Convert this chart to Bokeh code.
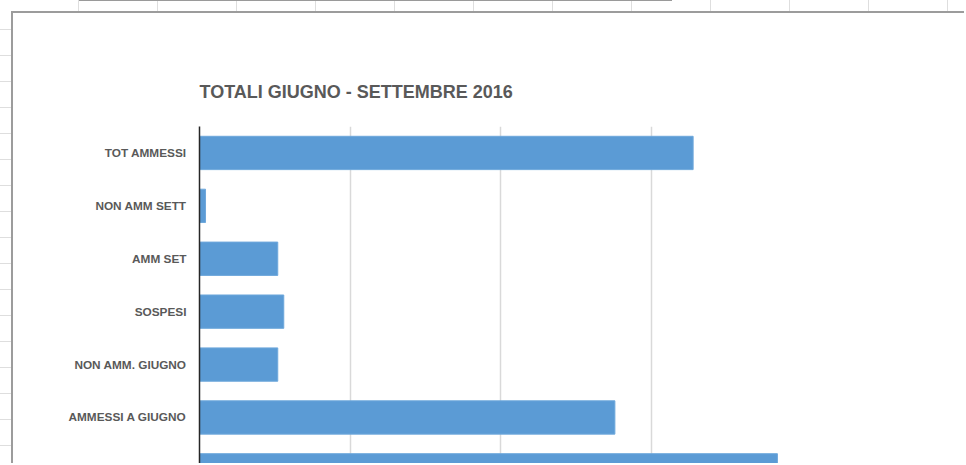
from bokeh.plotting import figure
from bokeh.layouts import column
from bokeh.models import Range1d, FixedTicker, Title, ColumnDataSource
from bokeh.embed import file_html
from bokeh.resources import INLINE

# Data (bottom to top, as in the Excel bar chart)
categories = ["TOT SCRUTINATI", "AMMESSI A GIUGNO", "NON AMM. GIUGNO", "SOSPESI",
              "AMM SET", "NON AMM SETT", "TOT AMMESSI"]
values = [192, 138, 26, 28, 26, 2, 164]
x_ticks = [0, 50, 100, 150, 200]

positions = list(range(len(categories)))
src = ColumnDataSource(dict(y=positions, v=values, cat=categories))

W, H = 953, 452
p = figure(width=W, height=H, output_backend="svg", toolbar_location=None,
           x_range=Range1d(0, 200), y_range=Range1d(0.092, 6.5),
           min_border_left=186, min_border_right=165, min_border_top=113,
           min_border_bottom=0, title=None)
p.margin = (11, 0, 0, 11)
p.styles = {"border-top": "2px solid #9c9c9c", "border-left": "2px solid #9c9c9c",
            "background": "white"}

p.hbar(y="y", right="v", left=0, height=0.63, source=src,
       fill_color="#5B9BD5", line_color="#6ea8dc", line_width=1)

p.xaxis.visible = False
p.xgrid.ticker = FixedTicker(ticks=x_ticks)
p.xgrid.grid_line_color = "#D9D9D9"
p.xgrid.grid_line_width = 1.5
p.ygrid.visible = False
p.outline_line_color = None

ax = p.yaxis[0]
ax.ticker = FixedTicker(ticks=positions)
ax.major_label_overrides = {i: c for i, c in zip(positions, categories)}
ax.major_tick_line_color = None
ax.minor_tick_line_color = None
ax.axis_line_color = "#262626"
ax.axis_line_width = 1.5
ax.major_label_text_font = "Liberation Sans"
ax.major_label_text_font_style = "bold"
ax.major_label_text_font_size = "11.8px"
ax.major_label_text_color = "#595959"
ax.major_label_standoff = 7

t = Title(text="TOTALI GIUGNO - SETTEMBRE 2016", align="left",
          text_font="Liberation Sans", text_font_style="bold",
          text_font_size="18px", text_color="#595959", standoff=50)
p.add_layout(t, "above")

sheet_bg = {
    "background-color": "white",
    "background-image": ("linear-gradient(#9a9a9a,#9a9a9a), "
                         "repeating-linear-gradient(to right, transparent 0 78px, #dedede 78px 79px), "
                         "repeating-linear-gradient(to bottom, transparent 0 25px, #dedede 25px 26px)"),
    "background-size": "593px 1px, auto, auto",
    "background-position": "79px 0, 0 0, 0 4px",
    "background-repeat": "no-repeat, repeat, repeat",
}
layout = column(p, styles=sheet_bg)

open("out.html", "w").write(file_html(layout, INLINE))
